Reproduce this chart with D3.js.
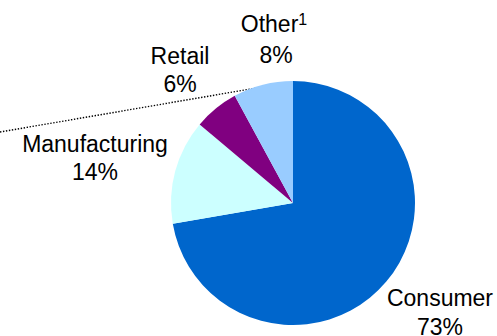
<!DOCTYPE html>
<html>
<head>
<meta charset="utf-8">
<script src="https://cdn.jsdelivr.net/npm/d3@7"></script>
<style>
  html, body { margin: 0; padding: 0; background: #fff; }
  svg { display: block; }
  text { font-family: "Liberation Sans", Arial, sans-serif; fill: #000; }
</style>
</head>
<body>
<svg id="chart" width="497" height="336"></svg>
<script>
// Revenue mix by segment (percent)
const categories = ["Consumer", "Manufacturing", "Retail", "Other"];
const values = [73, 14, 6, 8];
const footnotes = ["", "", "", "1"];
const colors = ["#0066CC", "#CCFFFF", "#800080", "#99CCFF"];

const width = 497, height = 336;
const cx = 293, cy = 203, radius = 122;

// label anchor points (centre x, first-line baseline, line gap)
const labelLayout = [
  { x: 440, y: 306, gap: 29 },
  { x: 95,  y: 151.5, gap: 28 },
  { x: 180, y: 63.5, gap: 28.5 },
  { x: 274, y: 31.5, gap: 31.5 }
];

const svg = d3.select("#chart");

// dotted leader running in from the left edge to the pie
svg.append("line")
  .attr("x1", 0).attr("y1", 132)
  .attr("x2", 262).attr("y2", 87)
  .attr("stroke", "#000")
  .attr("stroke-width", 1.4)
  .attr("stroke-dasharray", "1.4,1.6");

const pie = d3.pie().sort(null).value(d => d.value);
const arc = d3.arc().innerRadius(0).outerRadius(radius);

const data = categories.map((c, i) => ({ name: c, value: values[i], color: colors[i], note: footnotes[i] }));

const g = svg.append("g").attr("transform", `translate(${cx},${cy})`);
g.selectAll("path")
  .data(pie(data))
  .join("path")
  .attr("d", arc)
  .attr("fill", d => d.data.color);

const labels = svg.append("g");
data.forEach((d, i) => {
  const L = labelLayout[i];
  const t = labels.append("text")
    .attr("x", L.x).attr("y", L.y)
    .attr("text-anchor", "middle")
    .style("font-size", "23px");
  t.append("tspan").text(d.name);
  if (d.note) {
    t.append("tspan")
      .attr("dy", -7)
      .style("font-size", "16px")
      .text(d.note);
  }
  labels.append("text")
    .attr("x", L.x + (d.note ? 2 : 0)).attr("y", L.y + L.gap)
    .attr("text-anchor", "middle")
    .style("font-size", "23px")
    .text(d.value + "%");
});
</script>
</body>
</html>
